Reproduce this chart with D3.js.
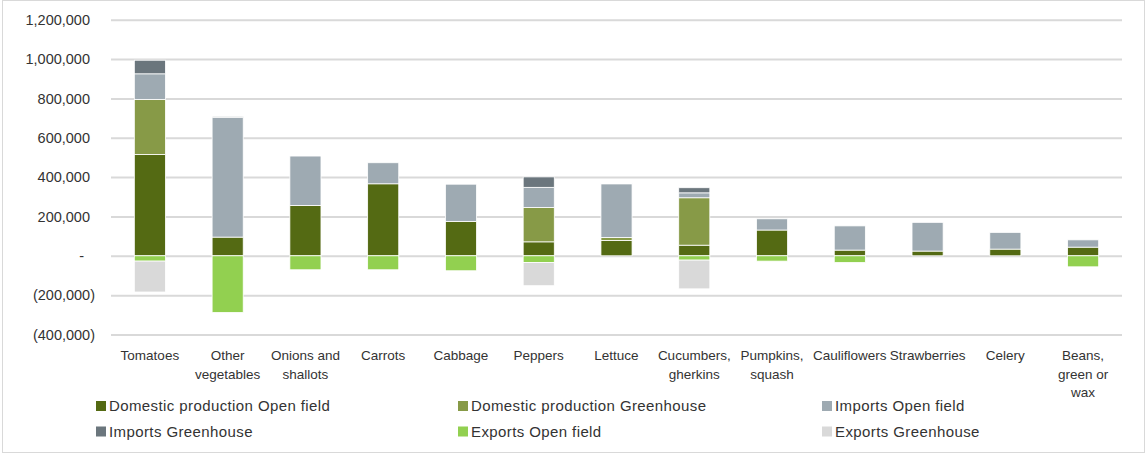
<!DOCTYPE html>
<html>
<head>
<meta charset="utf-8">
<script src="https://cdn.jsdelivr.net/npm/d3@7"></script>
<style>
  html, body { margin: 0; padding: 0; background: #fff; }
  svg { display: block; font-family: "Liberation Sans", Arial, sans-serif; }
  .tick text { fill: #333; }
</style>
</head>
<body>
<svg id="chart" width="1147" height="454"></svg>
<script>
const categories = ["Tomatoes", "Other vegetables", "Onions and shallots", "Carrots", "Cabbage", "Peppers",
  "Lettuce", "Cucumbers, gherkins", "Pumpkins, squash", "Cauliflowers", "Strawberries", "Celery", "Beans, green or wax"];

const seriesNames = ["Domestic production Open field", "Domestic production Greenhouse", "Imports Open field",
  "Imports Greenhouse", "Exports Open field", "Exports Greenhouse"];

const domesticOpen  = [515000, 95000, 256000, 366000, 175000, 71000, 78000, 54000, 131000, 29000, 24000, 34000, 44000];
const domesticGreen = [280000, 0, 0, 0, 0, 175000, 15000, 241000, 0, 0, 0, 0, 0];
const importsOpen   = [130000, 608000, 251000, 107000, 189000, 102000, 273000, 25000, 57000, 123000, 146000, 85000, 37000];
const importsGreen  = [69000, 5000, 0, 0, 0, 53000, 3000, 26000, 0, 0, 0, 0, 0];
const exportsOpen   = [-27000, -288000, -71000, -71000, -76000, -34000, 0, -22000, -27000, -34000, 0, 0, -56000];
const exportsGreen  = [-157000, 0, 0, 0, 0, -118000, 0, -146000, 0, 0, 0, 0, 0];

const yTicks = [-400000, -200000, 0, 200000, 400000, 600000, 800000, 1000000, 1200000];

const colors = ["#546a13", "#879a47", "#9eaab2", "#6b767d", "#92d050", "#d9d9d9"];

const svg = d3.select("#chart");

// outer frame
svg.append("rect")
  .attr("x", 2.5).attr("y", 0.5)
  .attr("width", 1142).attr("height", 452)
  .attr("fill", "none").attr("stroke", "#d9d9d9");

const left = 111, right = 1122;

const x = d3.scaleBand()
  .domain(categories)
  .range([left, right])
  .paddingInner(0.6)
  .paddingOuter(0.3);

const y = d3.scaleLinear()
  .domain([-400000, 1200000])
  .range([334.5, 19.7]);

const rows = categories.map((c, i) => ({
  cat: c,
  [seriesNames[0]]: domesticOpen[i],
  [seriesNames[1]]: domesticGreen[i],
  [seriesNames[2]]: importsOpen[i],
  [seriesNames[3]]: importsGreen[i],
  [seriesNames[4]]: exportsOpen[i],
  [seriesNames[5]]: exportsGreen[i]
}));

const stacked = d3.stack()
  .keys(seriesNames)
  .offset(d3.stackOffsetDiverging)(rows);

const fmt = d3.format(",");
function accounting(v) {
  if (v === 0) return "-";
  return v < 0 ? `(${fmt(-v)})` : fmt(v);
}

// gridlines + y labels
const yAxis = svg.append("g")
  .attr("transform", `translate(${left},0)`)
  .call(d3.axisLeft(y).tickValues(yTicks).tickSize(-(right - left)).tickPadding(21).tickFormat(accounting));

yAxis.select(".domain").remove();
yAxis.selectAll(".tick line").attr("stroke", "#d9d9d9").attr("stroke-width", 2);
yAxis.selectAll(".tick text")
  .attr("font-size", "14.5px")
  .attr("dx", (d) => (d < 0 ? 5 : d === 0 ? -6 : 0));

// bars
svg.append("g")
  .selectAll("g")
  .data(stacked)
  .join("g")
  .attr("fill", (d, i) => colors[i])
  .selectAll("rect")
  .data((d) => d.filter((s) => s[1] !== s[0]))
  .join("rect")
  .attr("x", (d) => x(d.data.cat))
  .attr("width", x.bandwidth())
  .attr("y", (d) => y(Math.max(d[0], d[1])))
  .attr("height", (d) => Math.abs(y(d[0]) - y(d[1])))
  .attr("stroke", "#fff")
  .attr("stroke-width", 0.8);

// category labels, wrapped to the band
const catG = svg.append("g")
  .attr("font-size", "13.5px")
  .attr("fill", "#333")
  .attr("text-anchor", "middle");

categories.forEach((c) => {
  const t = catG.append("text")
    .attr("x", x(c) + x.bandwidth() / 2)
    .attr("y", 360);
  const words = c.split(" ");
  let line = [];
  let lineNo = 0;
  let tspan = t.append("tspan").attr("x", x(c) + x.bandwidth() / 2).attr("dy", 0);
  words.forEach((w) => {
    line.push(w);
    tspan.text(line.join(" "));
    if (tspan.node().getComputedTextLength() > 74 && line.length > 1) {
      line.pop();
      tspan.text(line.join(" "));
      line = [w];
      lineNo++;
      tspan = t.append("tspan").attr("x", x(c) + x.bandwidth() / 2).attr("dy", 18.5).text(w);
    }
  });
});

// legend
const legendX = [96, 458, 822];
const legendY = [406, 431.5];
const legend = svg.append("g").attr("font-size", "15px").attr("fill", "#333");
seriesNames.forEach((name, i) => {
  const lx = legendX[i % 3];
  const ly = legendY[Math.floor(i / 3)];
  legend.append("rect")
    .attr("x", lx).attr("y", ly - 5)
    .attr("width", 10).attr("height", 10)
    .attr("fill", colors[i]);
  legend.append("text")
    .attr("x", lx + 13).attr("y", ly)
    .attr("dy", "0.35em")
    .attr("letter-spacing", "0.4px")
    .text(name);
});
</script>
</body>
</html>
